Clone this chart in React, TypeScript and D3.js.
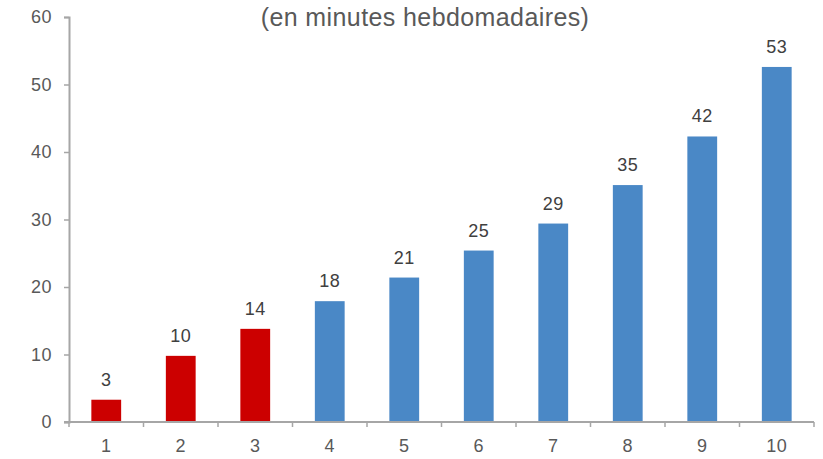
import { useEffect, useRef } from "react"
import * as d3 from "d3"

const categories = ["1", "2", "3", "4", "5", "6", "7", "8", "9", "10"]
const values = [3.3, 9.8, 13.8, 17.9, 21.4, 25.4, 29.4, 35.1, 42.3, 52.6]
const yTicks = [0, 10, 20, 30, 40, 50, 60]
const highlighted = ["1", "2", "3"]
const title = "(en minutes hebdomadaires)"

const width = 823
const height = 459
const margin = { top: 17, right: 9, bottom: 37, left: 69 }

export default function App() {
  const svgRef = useRef<SVGSVGElement>(null)

  useEffect(() => {
    if (!svgRef.current) return
    const svg = d3.select(svgRef.current)
    svg.selectAll("*").remove()

    const font = "'Liberation Sans', Arial, sans-serif"
    const axisColor = "#a6a6a6"

    const x = d3.scaleBand()
      .domain(categories)
      .range([margin.left, width - margin.right])
      .paddingInner(0.6)
      .paddingOuter(0.3)

    const y = d3.scaleLinear()
      .domain([0, 60])
      .range([height - margin.bottom, margin.top])

    // title
    svg.append("text")
      .attr("x", 425)
      .attr("y", 26)
      .attr("text-anchor", "middle")
      .attr("font-family", font)
      .attr("font-size", 25)
      .attr("letter-spacing", 0.4)
      .attr("fill", "#595959")
      .text(title)

    // bars
    svg.append("g")
      .selectAll("rect")
      .data(values)
      .join("rect")
      .attr("x", (_, i) => x(categories[i])!)
      .attr("width", x.bandwidth())
      .attr("y", d => y(d))
      .attr("height", d => y(0) - y(d))
      .attr("fill", (_, i) => highlighted.includes(categories[i]) ? "#cc0000" : "#4a88c6")

    // value labels
    svg.append("g")
      .selectAll("text")
      .data(values)
      .join("text")
      .attr("x", (_, i) => x(categories[i])! + x.bandwidth() / 2)
      .attr("y", d => y(d) - 14)
      .attr("text-anchor", "middle")
      .attr("font-family", font)
      .attr("font-size", 18)
      .attr("letter-spacing", 0.5)
      .attr("fill", "#404040")
      .text(d => Math.round(d))

    // y axis
    const yAxis = svg.append("g")
      .attr("transform", `translate(${margin.left},0)`)
      .call(d3.axisLeft(y).tickValues(yTicks).tickSize(5).tickPadding(12))
    yAxis.select(".domain").attr("stroke", axisColor).attr("stroke-width", 2)
    yAxis.selectAll(".tick line").attr("stroke", axisColor).attr("stroke-width", 1.5)
    yAxis.selectAll(".tick text")
      .attr("font-family", font)
      .attr("font-size", 18)
      .attr("letter-spacing", 0.5)
      .attr("fill", "#595959")

    // x axis
    const xg = svg.append("g")
    xg.append("line")
      .attr("x1", margin.left - 5)
      .attr("x2", width - margin.right)
      .attr("y1", y(0))
      .attr("y2", y(0))
      .attr("stroke", axisColor)
      .attr("stroke-width", 2)
    const step = x.step()
    const boundaries = d3.range(0, categories.length + 1).map(i => margin.left + i * step)
    xg.selectAll("line.tk")
      .data(boundaries)
      .join("line")
      .attr("class", "tk")
      .attr("x1", d => d)
      .attr("x2", d => d)
      .attr("y1", y(0))
      .attr("y2", y(0) + 5)
      .attr("stroke", axisColor)
      .attr("stroke-width", 1.5)
    xg.selectAll("text")
      .data(categories)
      .join("text")
      .attr("x", d => x(d)! + x.bandwidth() / 2)
      .attr("y", y(0) + 30)
      .attr("text-anchor", "middle")
      .attr("font-family", font)
      .attr("font-size", 18)
      .attr("letter-spacing", 0.5)
      .attr("fill", "#595959")
      .text(d => d)
  }, [])

  return (
    <svg
      ref={svgRef}
      width={width}
      height={height}
      style={{ position: "absolute", left: 0, top: 0, background: "#fff" }}
    />
  )
}
